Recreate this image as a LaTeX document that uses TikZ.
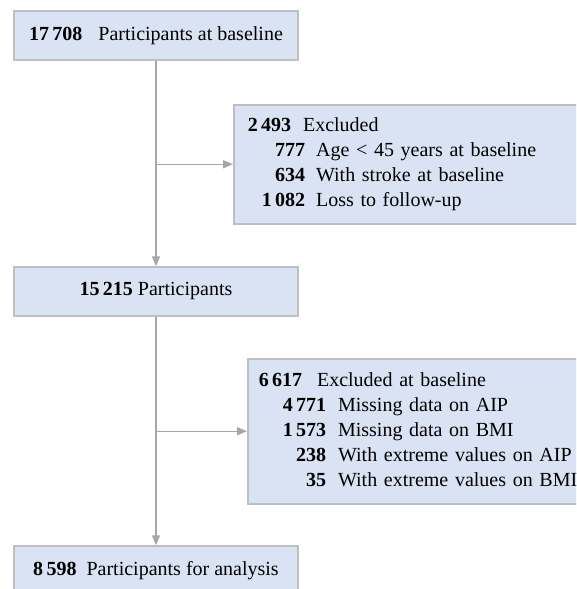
\documentclass[tikz,border=0pt]{standalone}
\usepackage{fontspec}
\setmainfont{Liberation Serif}
\usetikzlibrary{arrows.meta,positioning}

\definecolor{boxfill}{HTML}{DAE3F3}
\definecolor{boxline}{HTML}{BFBFBF}
\definecolor{arrowline}{HTML}{A6A6A6}
\newcommand{\flowfont}{\fontsize{20}{25}\selectfont}

\begin{document}
\begin{tikzpicture}[
    x=1pt, y=1pt,
    box/.style={rectangle, draw=boxline, fill=boxfill, line width=1.5pt, minimum width=284pt, minimum height=49pt, inner sep=0pt, font=\flowfont},
    exbox/.style={rectangle, draw=boxline, fill=boxfill, line width=1.5pt, anchor=north west, align=left, inner ysep=0pt, font=\flowfont},
    arrow/.style={-{Triangle[length=10pt,width=8pt]}, draw=arrowline, line width=1.5pt}
]
    \useasboundingbox (0,0) rectangle (576,-589);
    \clip (0,0) rectangle (576,-589);

    % Main flow
    \node[box] (base) at (156,-35.5) {\textbf{17\,708}\hspace{16pt}Participants at baseline};
    \node[box] (part) at (156,-291.5) {\textbf{15\,215} Participants};
    \node[box] (final) at (156,-570.5) {\textbf{8\,598}\hspace{10pt}Participants for analysis};

    % Exclusions
    \node[exbox, inner xsep=14pt, text width=319pt, minimum height=119pt] (excl1) at (233,-104) {%
        \begin{tabular}{@{\hspace{14pt}}r@{\hspace{11pt}}l@{}}
        \multicolumn{2}{@{}l@{}}{\textbf{2\,493}\hspace{12pt}Excluded}\\
        \textbf{777} & Age < 45 years at baseline\\
        \textbf{634} & With stroke at baseline\\
        \textbf{1\,082} & Loss to follow-up
        \end{tabular}};

    \node[exbox, inner xsep=11pt, text width=311pt, minimum height=145pt] (excl2) at (247,-358) {%
        \begin{tabular}{@{\hspace{24pt}}r@{\hspace{12pt}}l@{}}
        \multicolumn{2}{@{}l@{}}{\textbf{6\,617}\hspace{15pt}Excluded at baseline}\\
        \textbf{4\,771} & Missing data on AIP\\
        \textbf{1\,573} & Missing data on BMI\\
        \textbf{238} & With extreme values on AIP\\
        \textbf{35} & With extreme values on BMI
        \end{tabular}};

    % Connections
    \draw[arrow] (base) -- (part);
    \draw[arrow] (part) -- (final);
    \draw[arrow] (base.south |- excl1.west) -- (excl1.west);
    \draw[arrow] (part.south |- excl2.west) -- (excl2.west);

\end{tikzpicture}
\end{document}
